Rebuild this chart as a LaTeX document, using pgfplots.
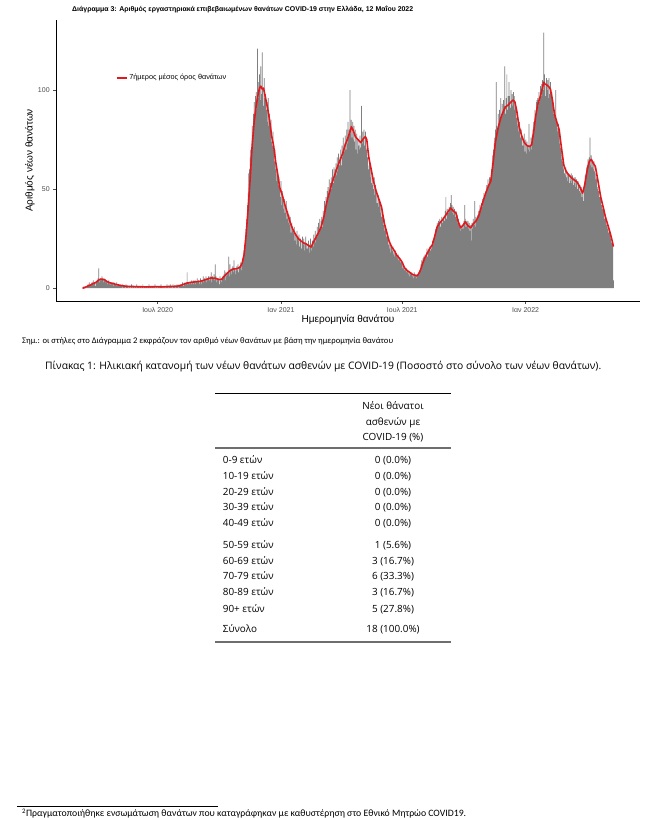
\documentclass[border=0pt]{standalone}
\usepackage{pgfplots}
\usepackage{pgfplotstable}
\pgfplotsset{compat=1.18}
\usepackage{fontspec}
\usepackage{graphicx}
\setmainfont{Liberation Sans}
\newfontfamily\opensans{Open Sans}
\newfontfamily\carlito{Carlito}
\definecolor{barcol}{RGB}{127,127,127}
\definecolor{redline}{RGB}{226,24,28}
\definecolor{ticklab}{RGB}{77,77,77}
\definecolor{rulegray}{RGB}{110,110,110}

\pgfplotstableread[row sep=\\, header=false]{
0\\0\\1\\0\\0\\1\\0\\
1\\2\\1\\3\\1\\2\\2\\
3\\2\\4\\2\\3\\1\\3\\
3\\4\\5\\10\\3\\4\\5\\
4\\6\\5\\3\\5\\4\\4\\
3\\4\\2\\3\\4\\2\\3\\
2\\3\\2\\3\\1\\3\\2\\
2\\1\\3\\1\\2\\2\\1\\
1\\2\\1\\0\\2\\1\\1\\
1\\0\\2\\1\\1\\0\\1\\
1\\1\\0\\2\\1\\0\\1\\
0\\1\\1\\0\\2\\1\\1\\
1\\0\\1\\1\\0\\1\\2\\
0\\1\\1\\0\\1\\1\\0\\
1\\2\\0\\1\\1\\0\\1\\
1\\0\\1\\2\\0\\1\\1\\
0\\1\\1\\0\\1\\2\\1\\
1\\0\\1\\1\\0\\1\\1\\
2\\1\\0\\1\\1\\2\\1\\
1\\0\\2\\1\\1\\0\\1\\
1\\2\\1\\0\\2\\1\\2\\
2\\1\\3\\2\\1\\2\\3\\
2\\3\\8\\2\\3\\2\\3\\
3\\2\\4\\3\\2\\4\\3\\
4\\2\\3\\5\\3\\4\\2\\
3\\5\\4\\2\\4\\6\\3\\
5\\4\\6\\3\\5\\4\\6\\
4\\6\\5\\8\\3\\6\\5\\
7\\4\\12\\6\\3\\5\\4\\
5\\2\\6\\4\\3\\5\\6\\
5\\7\\9\\4\\8\\6\\7\\
8\\16\\6\\12\\9\\7\\10\\
11\\8\\14\\10\\7\\9\\11\\
9\\12\\8\\11\\10\\13\\9\\
12\\15\\16\\19\\22\\26\\30\\
35\\42\\48\\58\\60\\66\\70\\
70\\82\\76\\88\\94\\86\\97\\
99\\90\\121\\96\\104\\108\\95\\
112\\98\\119\\100\\92\\106\\96\\
98\\90\\94\\84\\96\\82\\88\\
80\\85\\74\\72\\79\\70\\64\\
70\\60\\62\\54\\59\\52\\56\\
50\\46\\54\\42\\49\\45\\40\\
45\\38\\40\\44\\35\\39\\33\\
37\\32\\36\\28\\33\\29\\30\\
28\\31\\24\\27\\22\\29\\26\\
24\\27\\21\\25\\23\\20\\26\\
22\\25\\19\\23\\26\\20\\22\\
20\\24\\18\\22\\25\\21\\19\\
24\\21\\27\\25\\29\\23\\27\\
31\\26\\33\\28\\35\\30\\34\\
36\\31\\39\\35\\44\\41\\46\\
43\\49\\51\\45\\55\\48\\53\\
56\\50\\60\\53\\61\\55\\60\\
63\\57\\66\\59\\68\\62\\66\\
70\\62\\72\\66\\76\\69\\73\\
77\\70\\80\\73\\84\\76\\80\\
100\\78\\85\\76\\84\\75\\82\\
74\\80\\70\\78\\68\\75\\72\\
70\\77\\71\\92\\73\\79\\75\\
80\\72\\79\\71\\70\\66\\62\\
60\\66\\56\\61\\53\\58\\52\\
50\\56\\47\\52\\43\\48\\43\\
47\\41\\45\\38\\42\\36\\39\\
36\\32\\35\\29\\31\\26\\28\\
26\\22\\25\\20\\22\\18\\21\\
19\\21\\17\\18\\16\\19\\17\\
16\\15\\17\\14\\15\\13\\14\\
13\\12\\10\\11\\9\\10\\9\\
10\\8\\9\\7\\8\\6\\8\\
7\\8\\6\\7\\5\\8\\6\\
7\\5\\7\\6\\8\\7\\9\\
10\\12\\14\\13\\15\\16\\14\\
17\\15\\18\\20\\16\\19\\20\\
21\\19\\22\\20\\24\\22\\25\\
26\\28\\30\\29\\33\\31\\34\\
32\\35\\31\\34\\36\\33\\35\\
36\\34\\39\\46\\35\\40\\38\\
38\\41\\39\\43\\47\\42\\38\\
41\\37\\40\\36\\39\\35\\37\\
33\\35\\31\\32\\29\\31\\30\\
32\\30\\34\\42\\35\\31\\34\\
32\\34\\30\\33\\29\\32\\24\\
33\\30\\35\\32\\44\\31\\36\\
34\\37\\36\\39\\38\\42\\40\\
43\\41\\45\\44\\48\\46\\47\\
49\\52\\50\\55\\51\\56\\53\\
56\\60\\63\\67\\70\\73\\76\\
80\\104\\82\\78\\88\\83\\90\\
85\\96\\88\\93\\87\\95\\92\\
112\\88\\96\\108\\90\\97\\104\\
97\\91\\100\\94\\98\\92\\99\\
97\\90\\91\\86\\89\\82\\83\\
79\\84\\76\\77\\80\\72\\75\\
72\\78\\69\\75\\68\\74\\72\\
70\\83\\69\\72\\76\\70\\77\\
80\\84\\84\\90\\88\\94\\95\\
96\\92\\99\\94\\102\\97\\103\\
105\\100\\129\\108\\102\\97\\106\\
100\\105\\96\\106\\98\\104\\96\\
99\\93\\94\\88\\90\\85\\100\\
84\\81\\79\\83\\77\\73\\71\\
71\\65\\64\\61\\60\\58\\57\\
61\\56\\59\\54\\58\\53\\57\\
54\\58\\53\\57\\52\\56\\53\\
56\\51\\55\\50\\54\\52\\49\\
52\\48\\51\\46\\49\\44\\50\\
53\\57\\58\\61\\62\\65\\63\\
66\\76\\62\\67\\61\\64\\60\\
64\\59\\58\\55\\56\\51\\50\\
49\\46\\45\\47\\42\\41\\40\\
39\\38\\35\\36\\33\\32\\30\\
31\\28\\29\\25\\26\\23\\22\\
22\\4\\
}\bardata

\begin{document}
\begin{tikzpicture}[x=1pt,y=1pt]
\path[use as bounding box] (0,0) rectangle (646,818);
\fill[white] (0,0) rectangle (646,818);

\node[anchor=west, inner sep=0pt] at (72,809) {\resizebox{341pt}{!}{\bfseries Διάγραμμα 3: Αριθμός εργαστηριακά επιβεβαιωμένων θανάτων COVID-19 στην Ελλάδα, 12 Μαΐου 2022}};

\begin{axis}[
  at={(56pt,517pt)}, anchor=south west,
  scale only axis, width=584pt, height=281pt,
  xmin=30.4, xmax=901.6, ymin=-6.45, ymax=135.4,
  axis x line=bottom, axis y line=left,
  axis line style={-, black, line width=0.6pt},
  xtick={182,366,547,731},
  xticklabels={Ιουλ 2020, Ιαν 2021, Ιουλ 2021, Ιαν 2022},
  ytick={0,50,100},
  tick align=outside,
  major tick length=2.8pt,
  tick style={ticklab, line width=0.5pt},
  ticklabel style={font=\fontsize{7}{8}\selectfont, text=ticklab},
  /pgf/number format/assume math mode=true,
  xlabel={Ημερομηνία θανάτου},
  ylabel={Αριθμός νέων θανάτων},
  label style={font=\fontsize{8.8}{10}\selectfont},
  every axis x label/.style={at={(axis description cs:0.5,-0.0676)}, anchor=center},
  every axis y label/.style={at={(axis description cs:-0.0445,0.5)}, anchor=center, rotate=90},
  legend style={at={(axis description cs:0.1027,0.7936)}, anchor=west, draw=none, fill=none,
    font=\fontsize{7.3}{8}\selectfont, inner sep=0pt, nodes={inner sep=1.5pt}},
  legend cell align=left,
  legend image code/.code={\draw[#1] (0pt,0pt) -- (10pt,0pt);},
]
\addplot[ybar, bar width=1.1, fill=barcol, draw=none, forget plot]
  table[x expr=\coordindex+70, y index=0] {\bardata};
\addplot[redline, line width=1.6pt, line join=round] coordinates {
(70,0) (73,0.3) (76,0.8) (79,1.3) (82,1.6) (85,2.3) (88,2.6) (91,3.2) (94,4.1) (97,4.6)
(100,4.4) (103,4.3) (106,3.4) (109,3.0) (112,2.6) (116,2.3) (120,1.9) (124,1.6) (128,1.3)
(135,1.0) (142,0.9) (150,0.8) (160,0.7) (170,0.7) (180,0.8) (190,0.7) (200,0.9) (210,1.0)
(216,1.3) (220,1.9) (226,2.6) (232,3.0) (238,3.2) (244,3.4) (250,3.9) (256,4.6) (262,5.2)
(268,5.0) (274,4.3) (278,4.6) (282,6.3) (286,7.6) (290,8.9) (295,9.7) (300,9.8) (305,10.6)
(308,12.5) (311,17) (314,27) (317,40) (320,55) (323,72) (326,84) (329,92) (332,98) (334,101)
(336,102) (338,100.5) (340,101) (343,96) (346,91) (349,85) (352,77) (355,72) (358,64) (361,58)
(364,51) (368,47) (372,42) (376,37.5) (380,33) (384,29.5) (388,27) (392,25) (396,23.8) (400,22.8)
(404,22.3) (408,21.3) (411,20.8) (414,23) (418,25.5) (422,28) (426,31) (430,36) (434,43) (438,48)
(442,53) (446,57) (450,61) (454,64.5) (458,68) (462,72.5) (466,76) (469,79) (471,81.5) (474,79.5)
(477,76.5) (481,75) (485,73.5) (489,75.5) (492,76.5) (494,75) (497,66) (500,61) (504,54) (508,49)
(512,45) (516,41) (520,33) (524,28) (527,24) (531,21) (535,19) (539,16.5) (543,15) (547,13)
(550,10.5) (554,9) (558,8) (562,7) (566,6.5) (569,6.2) (572,7.5) (575,10) (578,13) (581,15.5)
(584,17.5) (588,20) (592,22) (596,27) (599,31) (603,33) (607,34.5) (611,36.5) (615,38.5) (619,40.5)
(623,39) (627,38) (630,34) (634,30.5) (638,32) (641,33.5) (645,31.5) (649,30.5) (653,32.5) (657,34)
(661,36.5) (664,40) (668,44.5) (672,48.5) (676,52) (679,54) (682,62) (686,74) (690,81) (694,86)
(698,89.5) (701,91.5) (705,92.5) (709,94) (712,95) (715,94) (718,89) (721,82) (725,77) (729,73.5)
(733,72) (737,71.5) (740,72.5) (743,79) (746,87) (749,92.5) (753,97) (756,101) (758,104) (760,103)
(763,102.5) (766,101.5) (768,100.5) (771,95) (774,88) (777,84.5) (781,80) (784,72) (788,62) (792,58.5)
(796,57) (800,55.5) (804,54.5) (808,53.5) (812,51) (816,48) (819,52) (823,60) (826,64) (829,65)
(832,63) (835,61.5) (839,54) (843,46) (847,40.5) (850,36) (854,31.5) (857,28) (860,24) (862,21)
};
\addlegendentry{7ήμερος μέσος όρος θανάτων}
\end{axis}

% note and caption
\node[anchor=west, inner sep=0pt] at (22,476.3) {\resizebox{371pt}{!}{\carlito Σημ.: οι στήλες στο Διάγραμμα 2 εκφράζουν τον αριθμό νέων θανάτων με βάση την ημερομηνία θανάτου}};
\node[anchor=west, inner sep=0pt] at (45,451.3) {\resizebox{556pt}{!}{\opensans Πίνακας 1: Ηλικιακή κατανομή των νέων θανάτων ασθενών με COVID-19 (Ποσοστό στο σύνολο των νέων θανάτων).}};

% table
\draw[line width=0.7pt] (215,424.7) -- (450.7,424.7);
\begin{scope}[every node/.style={inner sep=0pt, font=\opensans\fontsize{9.9}{11}\selectfont}]
\node[anchor=base] at (393,408.7) {Νέοι θάνατοι};
\node[anchor=base] at (393,392.7) {ασθενών με};
\node[anchor=base] at (393,377) {COVID-19 (\%)};
\node[anchor=base west] at (222.7,354) {0-9 ετών};
\node[anchor=base west] at (222.7,338.3) {10-19 ετών};
\node[anchor=base west] at (222.7,322.7) {20-29 ετών};
\node[anchor=base west] at (222.7,307.3) {30-39 ετών};
\node[anchor=base west] at (222.7,291) {40-49 ετών};
\node[anchor=base west] at (222.7,269.7) {50-59 ετών};
\node[anchor=base west] at (222.7,253.3) {60-69 ετών};
\node[anchor=base west] at (222.7,238) {70-79 ετών};
\node[anchor=base west] at (222.7,222.3) {80-89 ετών};
\node[anchor=base west] at (222.7,205.7) {90+ ετών};
\node[anchor=base west] at (222.7,185.3) {Σύνολο};
\node[anchor=base] at (393,354) {0 (0.0\%)};
\node[anchor=base] at (393,338.3) {0 (0.0\%)};
\node[anchor=base] at (393,322.7) {0 (0.0\%)};
\node[anchor=base] at (393,307.3) {0 (0.0\%)};
\node[anchor=base] at (393,291) {0 (0.0\%)};
\node[anchor=base] at (393,269.7) {1 (5.6\%)};
\node[anchor=base] at (393,253.3) {3 (16.7\%)};
\node[anchor=base] at (393,238) {6 (33.3\%)};
\node[anchor=base] at (393,222.3) {3 (16.7\%)};
\node[anchor=base] at (393,205.7) {5 (27.8\%)};
\node[anchor=base] at (393,185.3) {18 (100.0\%)};
\end{scope}
\draw[rulegray, line width=1.8pt] (215,369.7) -- (450.7,369.7);
\draw[rulegray, line width=1.8pt] (215,175.7) -- (450.7,175.7);

% footnote
\draw[line width=0.5pt] (17,12) -- (218,12);
\node[anchor=west, inner sep=0pt] at (22,4.5) {\resizebox{444pt}{!}{\carlito\textsuperscript{2}Πραγματοποιήθηκε ενσωμάτωση θανάτων που καταγράφηκαν με καθυστέρηση στο Εθνικό Μητρώο COVID19.}};
\end{tikzpicture}
\end{document}
